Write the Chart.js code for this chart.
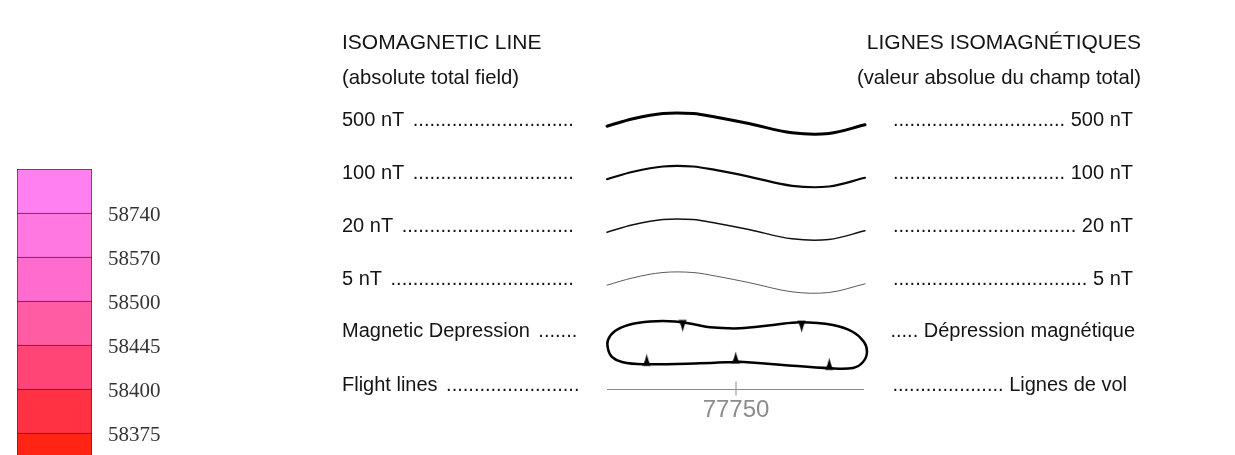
<!DOCTYPE html>
<html><head><meta charset="utf-8">
<script src="https://cdn.jsdelivr.net/npm/chart.js@4.4.1/dist/chart.umd.min.js"></script>
<style>
html,body{margin:0;padding:0;background:#fff;overflow:hidden;width:1235px;height:455px}
canvas{position:absolute;left:0;top:0}
</style></head><body>
<canvas id="legend" width="1235" height="455"></canvas>
<canvas id="bar" width="175" height="455"></canvas>
<script>
// ---------- colour scale (nT) ----------
const binLabels = [58740, 58570, 58500, 58445, 58400, 58375];            // class boundaries, top -> bottom
const binColors = ['#ff80f0', '#ff78e2', '#ff6cce', '#ff5ca4', '#ff4476', '#ff3244', '#ff2414']; // classes, top -> bottom

// ---------- legend texts ----------
const titleEn = ['ISOMAGNETIC LINE', '(absolute total field)'];
const titleFr = ['LIGNES ISOMAGNÉTIQUES', '(valeur absolue du champ total)'];
const rowsEn  = ['500 nT', '100 nT', '20 nT', '5 nT', 'Magnetic Depression', 'Flight lines'];
const rowsFr  = ['500 nT', '100 nT', '20 nT', '5 nT', 'Dépression magnétique', 'Lignes de vol'];

// ---------- isoline sample shape (fraction of sample width, offset from mid line) ----------
const waveT  = [0, 0.101, 0.217, 0.333, 0.424, 0.554, 0.717, 0.860, 1];
const waveDy = [2.7, -4.7, -10, -10, -6.3, 0.3, 9.3, 10, 1.3];
const waveWidths = [3, 2.2, 1.5, 1];
const waveColors = ['#000000', '#080808', '#111111', '#5a5a5a'];

// ---------- magnetic depression symbol (offset from sample left / symbol mid) ----------
const depDx = [133, 176, 223, 246, 256, 260, 257, 246, 226, 193, 166, 133, 103, 88, 68, 43, 23, 8, 1, 1, 5, 15, 36, 93, 133];
const depDy = [16.7, 20, 23.3, 23, 17, 7, -3, -13, -20, -22.7, -20, -16.7, -17.7, -20.5, -23.5, -23.5, -20.5, -14, -5, 4, 12, 17, 19.3, 18.3, 16.7];
const hachDx  = [39.7, 128.7, 222.3, 75.7, 194.7];
const hachDy  = [19.3, 17, 23.3, -23.5, -22.7];
const hachRot = [0, 0, 0, 180, 180];

// ---------- flight line ----------
const flightLabel = '77750';

// ---------- layout ----------
const L = {
  enLeft: 342, enGap: 10, enDotsEnd: [579, 579, 579, 579, 580, 581],
  frDotsStart: 892, frRight: [1133, 1133, 1133, 1133, 1135, 1127], titleRight: 1141,
  titleBase: [48.5, 83.5], rowBase: [125.5, 178.5, 231.5, 284.5, 337, 390.5],
  sampleLeft: 607, sampleW: 258, depMid: 345,
  flightY: 389.5, flightLeft: 607, flightRight: 864, flightTickX: 736, flightLabelBase: 416.5
};

// spike image for depression hachures
function makeSpike(w, h) {
  const c = document.createElement('canvas');
  c.width = w; c.height = h * 2;
  const g = c.getContext('2d');
  g.fillStyle = '#000';
  g.beginPath();
  g.moveTo(0.3, h + 1.5);
  g.quadraticCurveTo(w / 2 - 1.8, h - 2.5, w / 2, 0.5);
  g.quadraticCurveTo(w / 2 + 1.8, h - 2.5, w - 0.3, h + 1.5);
  g.closePath();
  g.fill();
  return c;
}
const spike = makeSpike(9, 11);

const datasets = [];
waveWidths.forEach((bw, k) => {
  const mid = L.rowBase[k] - 2;
  datasets.push({
    data: waveT.map((t, i) => ({ x: L.sampleLeft + t * L.sampleW, y: mid + waveDy[i] })),
    showLine: true, borderColor: waveColors[k], borderWidth: bw, pointRadius: 0,
    tension: 0.35, borderCapStyle: 'round'
  });
});
datasets.push({
  data: depDx.map((dx, i) => ({ x: L.sampleLeft + dx, y: L.depMid + depDy[i] })),
  showLine: true, borderColor: '#000', borderWidth: 2.5, pointRadius: 0, tension: 0.35, borderJoinStyle: 'round'
});
datasets.push({
  data: hachDx.map((dx, i) => ({ x: L.sampleLeft + dx, y: L.depMid + hachDy[i] })),
  showLine: false, pointStyle: spike, pointRadius: 5, pointRotation: c => hachRot[c.dataIndex]
});
datasets.push({
  data: [{ x: L.flightLeft, y: L.flightY }, { x: L.flightRight, y: L.flightY }],
  showLine: true, borderColor: '#8a8a8a', borderWidth: 1, pointRadius: 0
});
datasets.push({
  data: [{ x: L.flightTickX, y: L.flightY - 1 }],
  showLine: false, pointStyle: 'line', pointRotation: 90, pointRadius: 7,
  pointBorderColor: '#8a8a8a', pointBorderWidth: 1
});

const SANS = '"Liberation Sans", Arial, Helvetica, sans-serif';
const textPlugin = {
  id: 'legendText',
  afterDatasetsDraw(chart) {
    const { ctx, scales: { x, y } } = chart;
    const px = v => x.getPixelForValue(v), py = v => y.getPixelForValue(v);
    ctx.save();
    ctx.fillStyle = '#141414';
    ctx.textBaseline = 'alphabetic';
    // titles
    for (let i = 0; i < 2; i++) {
      ctx.font = (i === 0 ? '21px ' : '20.3px ') + SANS;
      ctx.textAlign = 'left';
      ctx.fillText(titleEn[i], px(L.enLeft), py(L.titleBase[i]));
      ctx.textAlign = 'right';
      ctx.fillText(titleFr[i], px(L.titleRight), py(L.titleBase[i]));
    }
    ctx.font = '20px ' + SANS;
    const dotW = ctx.measureText('.').width;
    rowsEn.forEach((lab, i) => {
      const by = py(L.rowBase[i]);
      // english, left column
      ctx.textAlign = 'left';
      ctx.fillText(lab, px(L.enLeft), by);
      const start = px(L.enLeft) + ctx.measureText(lab).width + L.enGap - 1.5;
      const end = px(L.enDotsEnd[i]);
      const n = Math.floor((end - start) / dotW);
      ctx.fillText('.'.repeat(n), start, by);
      // french, right column
      const fr = rowsFr[i];
      const right = px(L.frRight[i]);
      ctx.textAlign = 'right';
      ctx.fillText(fr, right, by);
      const fStart = px(L.frDotsStart);
      const fEnd = right - ctx.measureText(' ' + fr).width;
      const m = Math.round((fEnd - fStart) / dotW);
      ctx.fillText('.'.repeat(m), fEnd, by);
    });
    // flight line label
    ctx.fillStyle = '#8c8c8c';
    ctx.font = '24px ' + SANS;
    ctx.textAlign = 'center';
    ctx.fillText(flightLabel, px(L.flightTickX), py(L.flightLabelBase));
    ctx.restore();
  }
};

new Chart(document.getElementById('legend'), {
  type: 'scatter',
  data: { datasets },
  options: {
    responsive: false, animation: false, events: [],
    layout: { padding: 0, autoPadding: false },
    scales: {
      x: { type: 'linear', min: 0, max: 1235, display: false },
      y: { type: 'linear', min: 0, max: 455, reverse: true, display: false }
    },
    plugins: { legend: { display: false }, tooltip: { enabled: false } }
  },
  plugins: [textPlugin]
});

// colour bar: stacked classes, bottom -> top
const nBins = binColors.length;
new Chart(document.getElementById('bar'), {
  type: 'bar',
  data: {
    labels: ['nT'],
    datasets: binColors.slice().reverse().map(c => ({
      data: [1], backgroundColor: c, borderColor: '#333',
      borderWidth: { top: 1, left: 1, right: 1, bottom: 0 }, borderSkipped: false,
      barPercentage: 1, categoryPercentage: 1
    }))
  },
  options: {
    responsive: false, animation: false, events: [],
    layout: { padding: { left: 17, top: 169, right: 0, bottom: 0 }, autoPadding: false },
    scales: {
      x: { stacked: true, display: false },
      y: {
        stacked: true, position: 'right', min: 0.5, max: nBins,
        grid: { display: false, drawTicks: false }, border: { display: false },
        afterBuildTicks: s => { s.ticks = binLabels.map((_, i) => ({ value: binLabels.length - i })); },
        afterFit: s => { s.width = 175 - 92; s.paddingTop = 0; s.paddingBottom = 0; },
        ticks: {
          padding: 16, color: '#333', labelOffset: 2,
          font: { family: '"Liberation Serif", "Times New Roman", serif', size: 21 },
          callback: v => binLabels[binLabels.length - v]
        }
      }
    },
    plugins: { legend: { display: false }, tooltip: { enabled: false } }
  }
});
</script>
</body></html>
